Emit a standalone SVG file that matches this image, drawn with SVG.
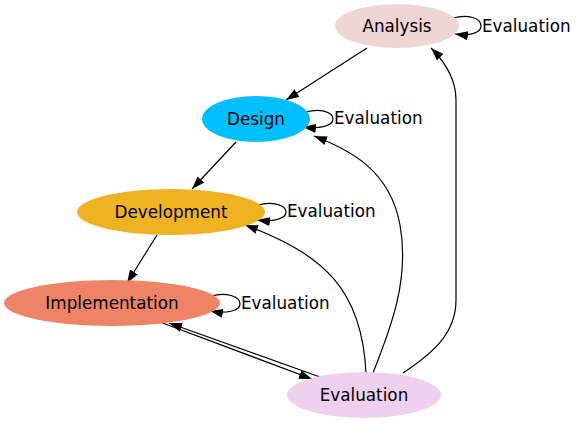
<svg xmlns="http://www.w3.org/2000/svg" width="576" height="424" viewBox="0 0 576 424">
<style>
text{font-family:"DejaVu Sans","Liberation Sans",sans-serif;font-size:16.8px;fill:#000}
.n text{text-anchor:middle}
.e path{fill:none;stroke:#000;stroke-width:1.2;marker-end:url(#ah)}
</style>
<defs>
<marker id="ah" viewBox="0 0 10 7" refX="10" refY="3.5" markerWidth="13" markerHeight="9.5" markerUnits="userSpaceOnUse" orient="auto"><path d="M0,0L10,3.5L0,7z" fill="#000"/></marker>
</defs>
<rect width="576" height="424" fill="#fff"/>
<g id="edges" class="e">
<path d="M367,48L286,100"/>
<path d="M236,142L192,189"/>
<path d="M157,235L127,283"/>
<path d="M160,322L312,379"/>
<path d="M320,377L169,323"/>
<path d="M366,373C362,290 325,255 245,225"/>
<path d="M373,373C390,330 410,280 400,225C390,170 350,150 314,136"/>
<path d="M403,373C430,355 456,335 456,300L456,100C456,80 445,62 431,48"/>
<path d="M453,18C468,14 481,18 481,26C481,33 470,36 455,34"/>
<path d="M306,112C320,108 333,112 333,119C333,126 320,129 303,127"/>
<path d="M258,205C272,201 286,205 286,212C286,219 273,222 257,220"/>
<path d="M211,296C226,292 240,296 240,304C240,311 226,314 210,311"/>
</g>
<g id="edge-labels">
<text x="482" y="32">Evaluation</text>
<text x="334" y="124">Evaluation</text>
<text x="287" y="217">Evaluation</text>
<text x="241" y="309">Evaluation</text>
</g>
<g id="analysis" class="n"><ellipse cx="397" cy="26" rx="62" ry="22" fill="#efd5d3"/><text x="397" y="32">Analysis</text></g>
<g id="design" class="n"><ellipse cx="256" cy="119" rx="54" ry="23" fill="#00bfff"/><text x="256" y="125">Design</text></g>
<g id="development" class="n"><ellipse cx="171" cy="212" rx="94" ry="23" fill="#efb322"/><text x="171" y="218">Development</text></g>
<g id="implementation" class="n"><ellipse cx="112" cy="303" rx="108" ry="23" fill="#ef8366"/><text x="112" y="309">Implementation</text></g>
<g id="evaluation" class="n"><ellipse cx="364" cy="395" rx="77" ry="23" fill="#efd1ef"/><text x="364" y="401">Evaluation</text></g>
</svg>
